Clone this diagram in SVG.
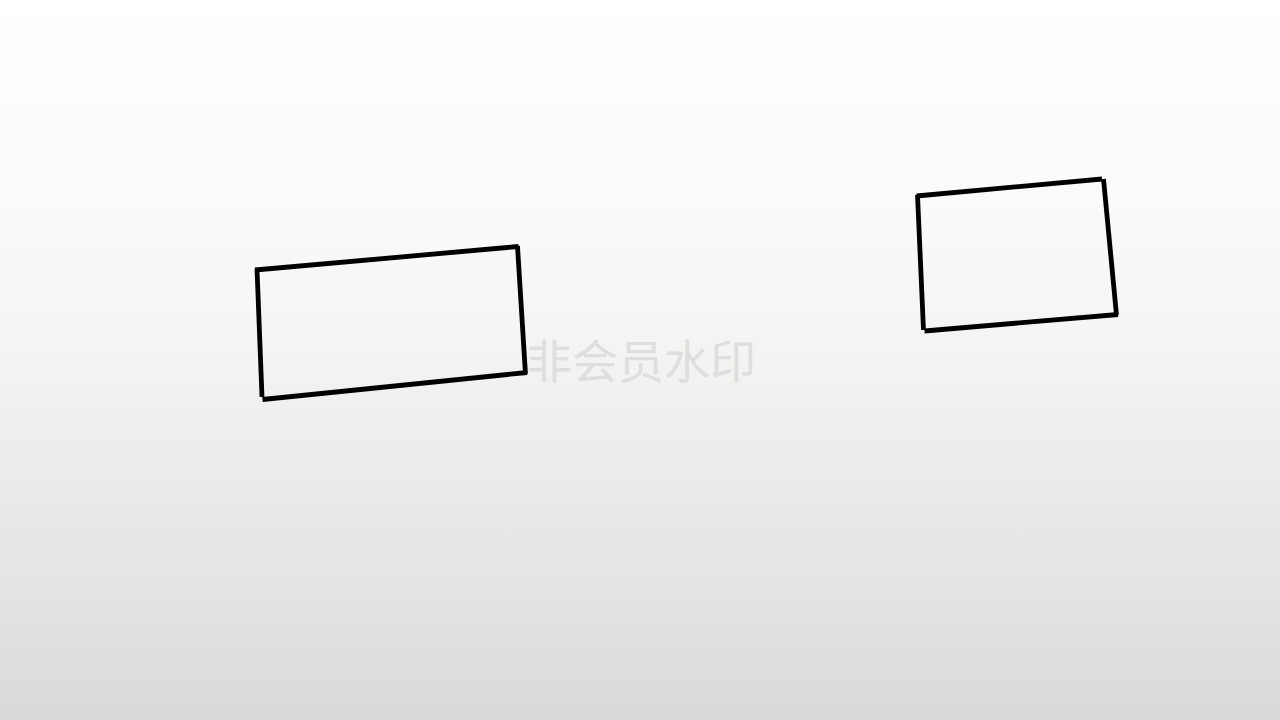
<svg xmlns="http://www.w3.org/2000/svg" width="1280" height="720" viewBox="0 0 1280 720">
  <defs>
    <linearGradient id="bg" x1="0" y1="0" x2="0" y2="1">
      <stop offset="0" stop-color="#ffffff"/>
      <stop offset="0.3" stop-color="#fafafa"/>
      <stop offset="0.5" stop-color="#f3f3f3"/>
      <stop offset="0.75" stop-color="#e7e7e7"/>
      <stop offset="1" stop-color="#d9d9d9"/>
    </linearGradient>
    <style>
      .edge { stroke: #000000; stroke-width: 4.8; fill: none; stroke-linecap: butt; }
      .wm { font-family: "Noto Sans CJK SC", "Noto Sans", sans-serif; font-size: 46px; fill: #dedede; }
    </style>
  </defs>
  <rect x="0" y="0" width="1280" height="720" fill="url(#bg)"/>
  <text class="wm" x="526" y="378">非会员水印</text>
  <g id="node-left">
    <line class="edge" x1="255" y1="270" x2="518.5" y2="246.5"/>
    <line class="edge" x1="517.5" y1="246" x2="525.5" y2="374"/>
    <line class="edge" x1="527" y1="372.5" x2="262.5" y2="399.5"/>
    <line class="edge" x1="257" y1="269" x2="262" y2="397"/>
  </g>
  <g id="node-right">
    <line class="edge" x1="916.5" y1="196" x2="1102" y2="179"/>
    <line class="edge" x1="1103.5" y1="179" x2="1116.5" y2="315"/>
    <line class="edge" x1="1118" y1="314.5" x2="924.5" y2="331"/>
    <line class="edge" x1="917.5" y1="195" x2="923.5" y2="330"/>
  </g>
  <g id="connectors"></g>
</svg>
